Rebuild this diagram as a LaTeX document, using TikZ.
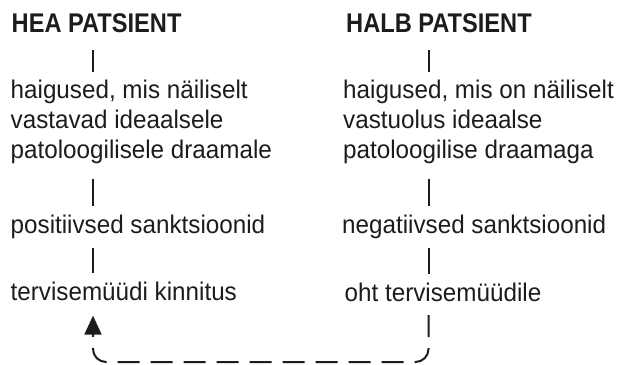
\documentclass[tikz,border=0pt]{standalone}
\usepackage{fontspec}
\setmainfont[FakeStretch=0.95]{Liberation Sans}
\newfontfamily\titlefont[FakeStretch=0.875]{Liberation Sans}
\usetikzlibrary{arrows.meta}
\definecolor{ink}{RGB}{30,27,28}

\begin{document}
\begin{tikzpicture}[x=1pt, y=-1pt,
    txt/.style={inner sep=0pt, text=ink, align=left, anchor=north west,
      font=\fontsize{25.5}{30}\selectfont},
    head/.style={inner sep=0pt, text=ink, anchor=base west,
      font=\titlefont\bfseries\fontsize{27}{30}\selectfont},
    link/.style={draw=ink, line width=2pt},
    back/.style={draw=ink, line width=2pt, dash pattern=on 22pt off 11pt,
      rounded corners=13pt, -{Triangle[length=19pt, width=17pt]}}]
    \useasboundingbox (0,0) rectangle (618,364);
    % Kolonnide teljed
    \coordinate (barL) at (93,0);
    \coordinate (barR) at (428.5,0);
    % Hea patsient
    \node[head] (hea0) at (11.5,32.7) {HEA PATSIENT};
    \node[txt] (hea1) at (10.5,79.5) {haigused, mis näiliselt\\vastavad ideaalsele\\patoloogilisele draamale};
    \node[txt] (hea2) at (10.5,214.5) {positiivsed sanktsioonid};
    \node[txt] (hea3) at (10.5,281.5) {tervisemüüdi kinnitus};
    % Halb patsient
    \node[head] (halb0) at (346,32.7) {HALB PATSIENT};
    \node[txt] (halb1) at (343,79.5) {haigused, mis on näiliselt\\vastuolus ideaalse\\patoloogilise draamaga};
    \node[txt] (halb2) at (342,214.5) {negatiivsed sanktsioonid};
    \node[txt] (halb3) at (344.5,283) {oht tervisemüüdile};
    % Vertikaalsed jooned
    \foreach \c/\b in {hea/barL,halb/barR} {
      \draw[link] ([yshift=-17pt]\c0.south -| \b) -- ([yshift=8pt]\c1.north -| \b);
      \draw[link] ([yshift=-15pt]\c1.south -| \b) -- ([yshift=9pt]\c2.north -| \b);
      \draw[link] ([yshift=-9pt]\c2.south -| \b) -- ([yshift=9pt]\c3.north -| \b);
    }
    % Tagasiside
    \coordinate (from) at ([yshift=-13pt]halb3.south -| barR);
    \coordinate (to) at ([yshift=-15pt]hea3.south -| barL);
    \coordinate (base) at (0,362);
    \draw[back] (from) -- (from |- base) -- (to |- base) -- (to);
  \end{tikzpicture}
\end{document}
